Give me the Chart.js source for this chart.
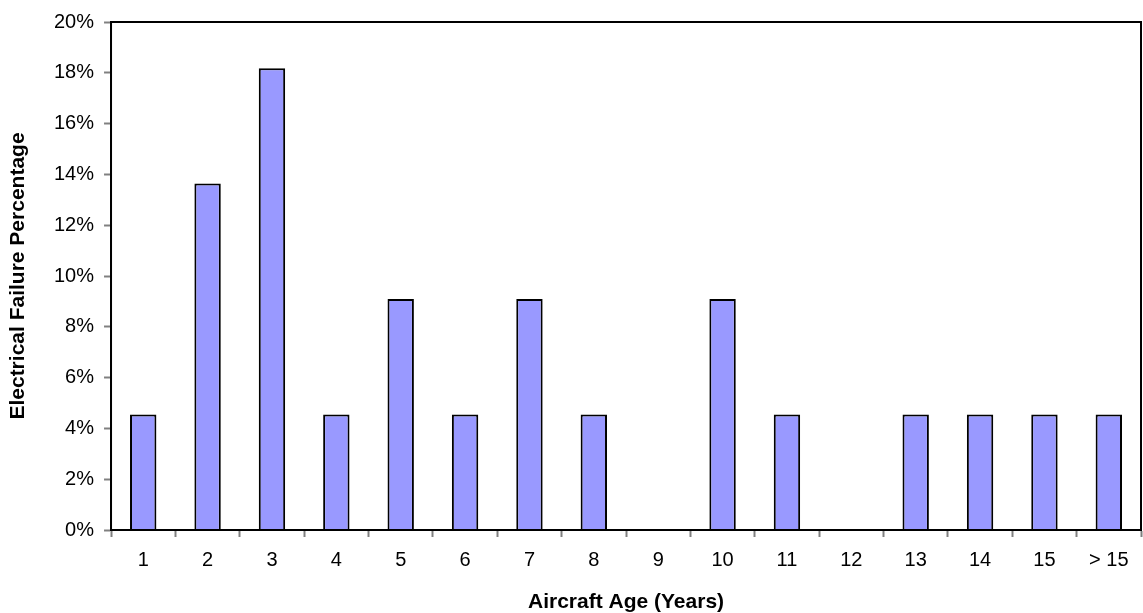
<!DOCTYPE html>
<html>
<head>
<meta charset="utf-8">
<script src="https://cdn.jsdelivr.net/npm/chart.js@4.4.0/dist/chart.umd.min.js"></script>
<style>
  html, body { margin: 0; padding: 0; background: #fff; }
  #wrap { width: 1143px; height: 613px; }
</style>
</head>
<body>
<div id="wrap"><canvas id="ageChart"></canvas></div>
<script>
// aircraft age buckets and share of electrical failures (%)
const ageLabels = ["1", "2", "3", "4", "5", "6", "7", "8", "9", "10", "11", "12", "13", "14", "15", "> 15"];
const failurePct = [4.55, 13.64, 18.18, 4.55, 9.09, 4.55, 9.09, 4.55, 0, 9.09, 4.55, 0, 4.55, 4.55, 4.55, 4.55];
const yTicks = [0, 2, 4, 6, 8, 10, 12, 14, 16, 18, 20];

const tickFont = { family: "Arial, 'Liberation Sans', sans-serif", size: 20 };
const titleFont = { family: "Arial, 'Liberation Sans', sans-serif", size: 21, weight: "bold", lineHeight: 1 };

// draws the black frame around the plot area (top and right sides)
const frame = {
  id: "frame",
  afterDraw(chart) {
    const a = chart.chartArea;
    const ctx = chart.ctx;
    ctx.save();
    ctx.strokeStyle = "#000";
    ctx.lineWidth = 2;
    ctx.strokeRect(a.left, a.top, a.right - a.left, a.bottom - a.top);
    ctx.restore();
  }
};

new Chart(document.getElementById("ageChart"), {
  type: "bar",
  data: {
    labels: ageLabels,
    datasets: [{
      label: "Electrical Failure Percentage",
      data: failurePct,
      backgroundColor: "#9999FF",
      borderColor: "#000",
      borderWidth: 2,
      barPercentage: 0.41,
      categoryPercentage: 1
    }]
  },
  options: {
    responsive: true,
    maintainAspectRatio: false,
    animation: false,
    layout: { padding: { top: 15, right: 2, left: 8, bottom: 0 } },
    plugins: {
      legend: { display: false },
      tooltip: { enabled: false }
    },
    scales: {
      x: {
        grid: {
          display: true,
          offset: true,
          drawOnChartArea: false,
          tickLength: 7,
          tickColor: "#808080",
          tickWidth: 2
        },
        border: { color: "#000", width: 2 },
        ticks: { color: "#000", font: tickFont, padding: 11 },
        title: {
          display: true,
          text: "Aircraft Age (Years)",
          color: "#000",
          font: titleFont,
          padding: { top: 9, bottom: 0 }
        }
      },
      y: {
        min: 0,
        max: 20,
        afterBuildTicks(axis) {
          axis.ticks = yTicks.map(v => ({ value: v }));
        },
        grid: {
          display: true,
          drawOnChartArea: false,
          tickLength: 7,
          tickColor: "#808080",
          tickWidth: 2
        },
        border: { color: "#000", width: 2 },
        ticks: {
          color: "#000",
          font: tickFont,
          padding: 10,
          callback: v => v + "%"
        },
        title: {
          display: true,
          text: "Electrical Failure Percentage",
          color: "#000",
          font: titleFont,
          padding: { top: 0, bottom: 15 }
        }
      }
    }
  },
  plugins: [frame]
});
</script>
</body>
</html>
